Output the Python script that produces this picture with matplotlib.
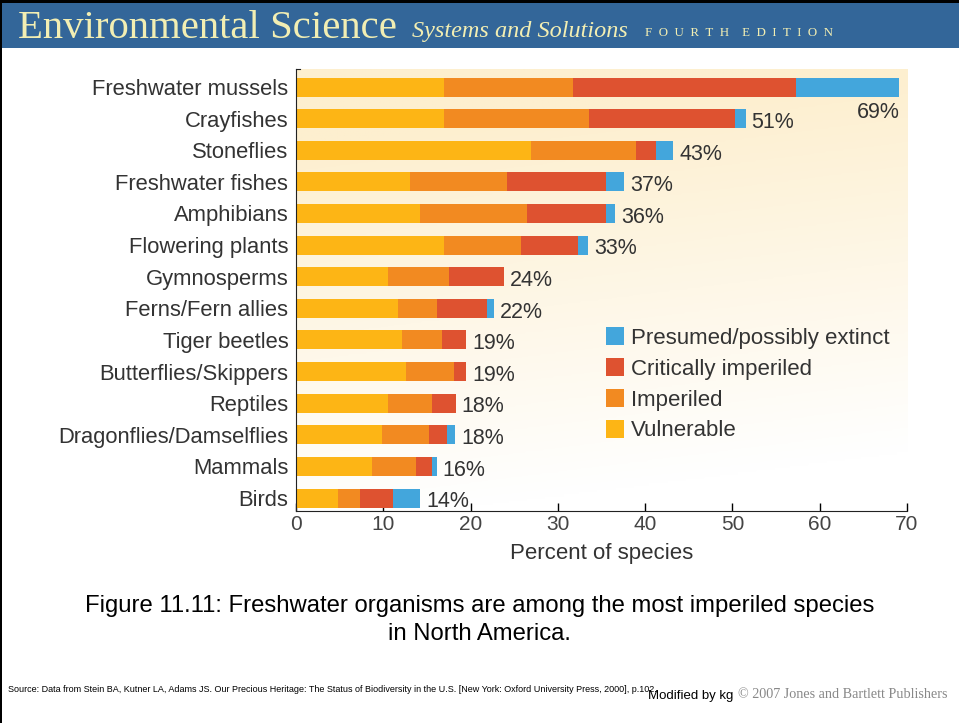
import numpy as np
import matplotlib
matplotlib.use("Agg")
import matplotlib.pyplot as plt
from matplotlib.patches import Rectangle, Patch
from matplotlib.colors import LinearSegmentedColormap

# datos (porcentaje de especies)
categories = ["Freshwater mussels", "Crayfishes", "Stoneflies", "Freshwater fishes",
              "Amphibians", "Flowering plants", "Gymnosperms", "Ferns/Fern allies",
              "Tiger beetles", "Butterflies/Skippers", "Reptiles",
              "Dragonflies/Damselflies", "Mammals", "Birds"]
vulnerable = [16.9, 17.0, 26.9, 13.1, 14.2, 17.0, 10.5, 11.7, 12.2, 12.6, 10.5, 9.9, 8.7, 4.8]
imperiled = [14.8, 16.6, 12.1, 11.1, 12.3, 8.8, 7.0, 4.4, 4.5, 5.5, 5.1, 5.3, 5.1, 2.5]
critical = [25.6, 16.7, 2.3, 11.3, 9.0, 6.5, 6.3, 5.8, 2.8, 1.4, 2.7, 2.1, 1.8, 3.8]
extinct = [11.8, 1.2, 1.9, 2.1, 1.1, 1.2, 0.0, 0.8, 0.0, 0.0, 0.0, 0.9, 0.5, 3.1]
totals = ["69%", "51%", "43%", "37%", "36%", "33%", "24%", "22%",
          "19%", "19%", "18%", "18%", "16%", "14%"]
xticks = [0, 10, 20, 30, 40, 50, 60, 70]

c_vul = "#fdb515"
c_imp = "#f28a21"
c_crit = "#de5230"
c_ext = "#43a6dc"
txt = "#333333"

plt.rcParams["font.family"] = ["Liberation Sans", "DejaVu Sans"]

fig = plt.figure(figsize=(9.59, 7.23), dpi=100)
W, H = 959, 723

# cabecera azul
fig.patches.append(Rectangle((0, 1 - 48 / H), 1, 48 / H, transform=fig.transFigure,
                             facecolor="#336699", edgecolor="none", zorder=0))
fig.patches.append(Rectangle((0, 1 - 3 / H), 1, 3 / H, transform=fig.transFigure,
                             facecolor="black", edgecolor="none", zorder=1))
fig.patches.append(Rectangle((0, 0), 2 / W, 1, transform=fig.transFigure,
                             facecolor="black", edgecolor="none", zorder=1))
fig.text(18 / W, 1 - 28 / H, "Environmental Science", family="Liberation Serif",
         fontsize=29.3, color="#f2eeb3", va="center", ha="left")
fig.text(412 / W, 1 - 32 / H, "Systems and Solutions", family="Liberation Serif",
         style="italic", fontsize=17.5, color="#f2eeb3", va="center", ha="left")
fig.text(645 / W, 1 - 33 / H, "\u2002".join("FOURTH") + "\u2002\u2002" + "\u2002".join("EDITION"),
         family="Liberation Serif", fontsize=9.3, color="#f2eeb3", va="center", ha="left")

# eje principal
ax = fig.add_axes([296 / W, 1 - 511 / H, (907 - 296) / W, (511 - 69) / H])

# fondo degradado crema (arriba) -> blanco (abajo)
yy, xx = np.mgrid[0:1:200j, 0:1:200j]
grad = np.clip(yy * 1.15 - xx * 0.2 + 0.05, 0, 1)
cmap = LinearSegmentedColormap.from_list("bg", ["#ffffff", "#fdefcf"])
ax.imshow(grad, extent=[0, 1, 0, 1], transform=ax.transAxes, aspect="auto",
          cmap=cmap, origin="lower", zorder=0, vmin=0, vmax=1)

y = np.arange(len(categories))
h = 0.6
left = np.zeros(len(categories))
for vals, col in [(vulnerable, c_vul), (imperiled, c_imp), (critical, c_crit), (extinct, c_ext)]:
    ax.barh(y, vals, left=left, height=h, color=col, edgecolor="none", zorder=2)
    left = left + np.array(vals)

# etiquetas de porcentaje
for i, t in enumerate(totals):
    if i == 0:
        ax.text(left[i] + 0.1, i + 0.8, t, ha="right", va="center", fontsize=15.5, color=txt)
    else:
        ax.text(left[i] + 0.7, i + 0.12, t, ha="left", va="center", fontsize=15.5, color=txt)

ax.set_xlim(0, 70)
ax.set_ylim(13.41, -0.57)
ax.set_yticks(y)
ax.set_yticklabels(categories, fontsize=15.8, color=txt)
ax.tick_params(axis="y", length=0, pad=5.5)
ax.set_xticks(xticks)
ax.tick_params(axis="x", direction="in", length=6, width=1, labelsize=15,
               labelcolor="#444444", pad=3)
ax.set_xlabel("Percent of species", fontsize=16, color=txt, labelpad=6)

ax.spines["right"].set_visible(False)
ax.spines["top"].set_bounds(0, 0.5)
for s in ["left", "bottom", "top"]:
    ax.spines[s].set_color("#222222")

handles = [Patch(facecolor=c_ext, label="Presumed/possibly extinct"),
           Patch(facecolor=c_crit, label="Critically imperiled"),
           Patch(facecolor=c_imp, label="Imperiled"),
           Patch(facecolor=c_vul, label="Vulnerable")]
ax.legend(handles=handles, loc="upper left", bbox_to_anchor=(606 / W, 1 - 327 / H),
          bbox_transform=fig.transFigure, frameon=False, fontsize=16,
          handlelength=0.81, handleheight=0.86, handletextpad=0.32,
          labelspacing=0.42, borderpad=0, borderaxespad=0, labelcolor=txt)

# pie de figura
fig.text(0.5, 1 - 620 / H,
         "Figure 11.11: Freshwater organisms are among the most imperiled species\nin North America.",
         ha="center", va="center", fontsize=17.2, color="black", linespacing=1.4)
fig.text(8 / W, 1 - 690 / H,
         "Source: Data from Stein BA, Kutner LA, Adams JS. Our Precious Heritage: The Status of "
         "Biodiversity in the U.S. [New York: Oxford University Press, 2000], p.102.",
         ha="left", va="center", fontsize=6.5, color="black")
fig.text(648 / W, 1 - 696 / H, "Modified by kg", ha="left", va="center",
         fontsize=9.5, color="black")
fig.text(738 / W, 1 - 695 / H, "\u00a9 2007 Jones and Bartlett Publishers",
         family="Liberation Serif", ha="left", va="center", fontsize=10.2, color="#888888")

fig.savefig("out.png", dpi=100)
